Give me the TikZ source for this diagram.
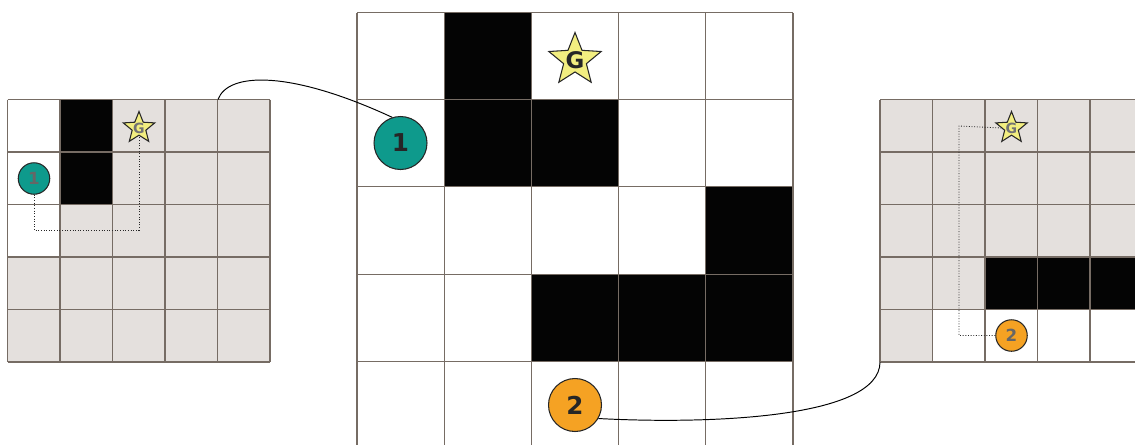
\documentclass[tikz,border=0pt]{standalone}
\usepackage{fontspec}
\setsansfont{DejaVu Sans}
\usetikzlibrary{shapes.geometric,calc}
\definecolor{gridc}{RGB}{118,108,100}
\definecolor{fogc}{RGB}{228,224,221}
\definecolor{wallc}{RGB}{4,4,4}
\definecolor{tealc}{RGB}{14,154,140}
\definecolor{orangec}{RGB}{245,162,35}
\definecolor{starc}{RGB}{242,238,128}
\tikzset{
  cellln/.style={draw=gridc,line width=0.6pt},
  wall/.style={fill=wallc},
  fog/.style={fill=fogc},
  agent/.style={circle,draw=black!85,line width=0.6pt,inner sep=0pt,font=\sffamily\bfseries},
  agentbig/.style={agent,minimum size=1.06cm,text=black!85,font=\sffamily\bfseries\fontsize{14}{14}\selectfont},
  agentsm/.style={agent,minimum size=0.63cm,text=black!60,font=\sffamily\bfseries\fontsize{9.5}{9.5}\selectfont},
  goal/.style={star,star points=5,star point ratio=2.3,draw=black!85,fill=starc,
    line width=0.6pt,inner sep=0pt},
  goalbig/.style={goal,minimum size=1.1cm,
    label={[text=black!85,font=\sffamily\bfseries\fontsize{13}{13}\selectfont]center:G}},
  goalsm/.style={goal,minimum size=0.66cm,
    label={[text=black!55,font=\sffamily\bfseries\fontsize{8}{8}\selectfont]center:G}},
  route/.style={densely dotted,line width=0.5pt,black!85},  % planned path
  link/.style={line width=0.55pt,black},                    % view connector
}
\begin{document}
\begin{tikzpicture}[x=0.02cm,y=-0.02cm]
  \useasboundingbox (0,0) rectangle (1135,444);
  \clip (0,0) rectangle (1135,444);
  % ---- left view: what agent 1 sees ----
  \fill[fog] (7.5,99.5) rectangle (270,362);
  \fill[white] (7.5,99.5) rectangle (60,257);
  \foreach \c/\r in {1/0,1/1}
    \fill[wall] (7.5+52.5*\c,99.5+52.5*\r) rectangle ++(52.5,52.5);
  \foreach \i in {0,...,5} {
    \draw[cellln] (7.5+52.5*\i,99.5) -- ++(0,262.5);
    \draw[cellln] (7.5,99.5+52.5*\i) -- ++(262.5,0);
  }
  % ---- full map ----
  \foreach \c/\r in {1/0,1/1,2/1,4/2,2/3,3/3,4/3}
    \fill[wall] (357+87.2*\c,12.5+87.2*\r) rectangle ++(87.2,87.2);
  \foreach \i in {0,...,5} {
    \draw[cellln] (357+87.2*\i,12.5) -- ++(0,436);
    \draw[cellln] (357,12.5+87.2*\i) -- ++(436,0);
  }
  % ---- right view: what agent 2 sees ----
  \fill[fog] (880,99.5) rectangle (1142.5,362);
  \fill[white] (932.5,309.5) rectangle (1142.5,362);
  \foreach \c/\r in {2/3,3/3,4/3}
    \fill[wall] (880+52.5*\c,99.5+52.5*\r) rectangle ++(52.5,52.5);
  \foreach \i in {0,...,5} {
    \draw[cellln] (880+52.5*\i,99.5) -- ++(0,262.5);
    \draw[cellln] (880,99.5+52.5*\i) -- ++(262.5,0);
  }
  % agents and goals
  \node[goalbig] (g) at (575,60) {};
  \node[agentbig,fill=tealc] (b1) at (400.5,143) {1};
  \node[agentbig,fill=orangec] (b2) at (575,405) {2};
  \node[goalsm] (g1) at (139,128) {};
  \node[agentsm,fill=tealc] (a1) at (34,178.5) {1};
  \node[goalsm] (g2) at (1011.5,128) {};
  \node[agentsm,fill=orangec] (a2) at (1011.5,335.5) {2};
  % planned routes
  \coordinate (t1) at (139,230);
  \draw[route] (a1.south) |- (t1) -- (g1.south);
  \coordinate (t2) at (959,126);
  \draw[route] (a2.west) -| (t2) -- (g2.west);
  % connectors
  \coordinate (lv) at (218,99.5);
  \coordinate (rv) at (880,362);
  \draw[link] (lv) .. controls (228,72) and (290,70) .. (b1.108);
  \draw[link] (b2.-30) .. controls (700,424) and (880,420) .. (rv);
\end{tikzpicture}
\end{document}
